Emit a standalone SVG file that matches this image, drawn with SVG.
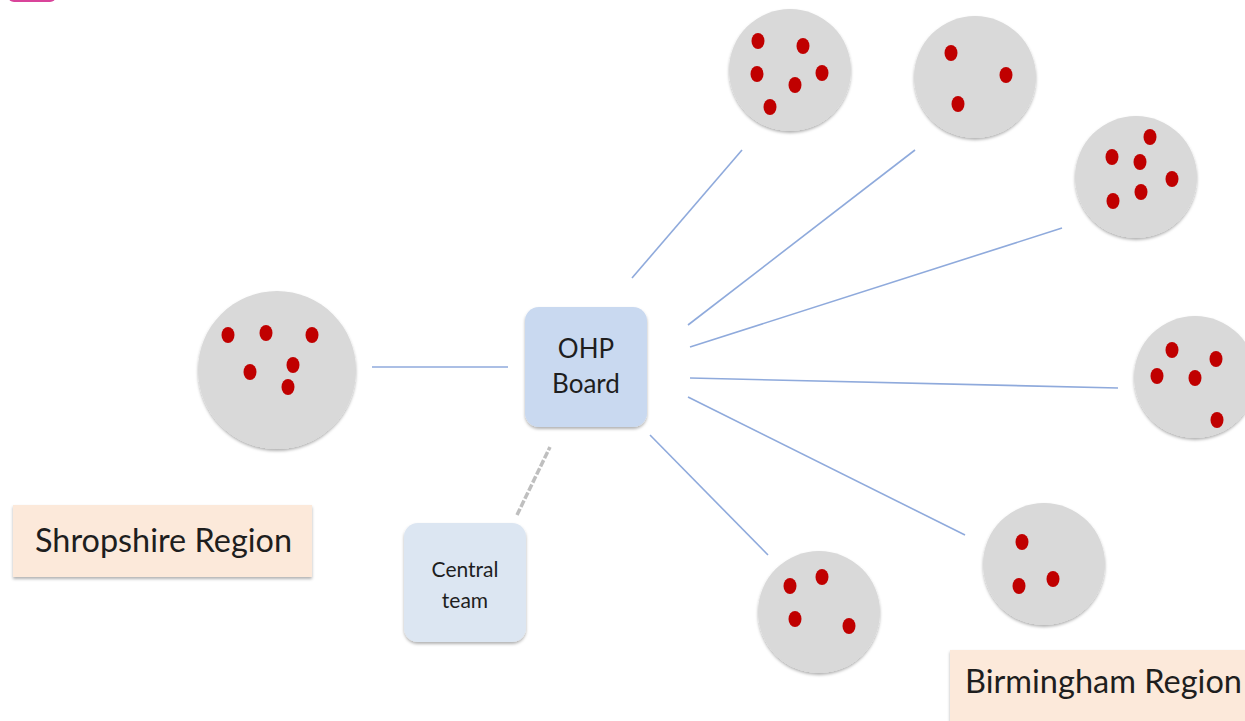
<svg xmlns="http://www.w3.org/2000/svg" width="1245" height="721" viewBox="0 0 1245 721">
<style>
.grp{fill:#D9D9D9;filter:url(#sh)}
.dot{fill:#C00000}
.con{stroke:#8FAADC;stroke-width:1.6;fill:none}
.dash{stroke:#BFBFBF;stroke-width:3.5;stroke-dasharray:7 2;fill:none}
.lbl{font-family:Lato,"Open Sans",sans-serif;fill:#1E1E1E}
</style>
<defs>
<filter id="sh" x="-20%" y="-20%" width="140%" height="140%">
<feDropShadow dx="0" dy="2" stdDeviation="1.5" flood-color="#000" flood-opacity="0.3"/>
</filter>
</defs>
<rect x="8" y="-20" width="48" height="22" rx="6" fill="#D9449A"/>
<g id="connectors">
<line class="con" x1="372" y1="367" x2="508" y2="367"/>
<line class="con" x1="632" y1="278" x2="742" y2="150"/>
<line class="con" x1="688" y1="325" x2="915" y2="150"/>
<line class="con" x1="690" y1="347" x2="1062" y2="228"/>
<line class="con" x1="690" y1="378" x2="1118" y2="388"/>
<line class="con" x1="688" y1="397" x2="965" y2="535"/>
<line class="con" x1="650" y1="435" x2="768" y2="555"/>
<line class="dash" x1="517" y1="515" x2="550" y2="447"/>
</g>
<g id="shropshire-group">
<circle class="grp" cx="277" cy="370" r="79"/>
<ellipse class="dot" cx="228" cy="335" rx="6.5" ry="8"/>
<ellipse class="dot" cx="266" cy="333" rx="6.5" ry="8"/>
<ellipse class="dot" cx="312" cy="335" rx="6.5" ry="8"/>
<ellipse class="dot" cx="250" cy="372" rx="6.5" ry="8"/>
<ellipse class="dot" cx="293" cy="365" rx="6.5" ry="8"/>
<ellipse class="dot" cx="288" cy="387" rx="6.5" ry="8"/>
</g>
<g id="group1">
<circle class="grp" cx="790" cy="70" r="61"/>
<ellipse class="dot" cx="758" cy="41" rx="6.5" ry="8"/>
<ellipse class="dot" cx="803" cy="46" rx="6.5" ry="8"/>
<ellipse class="dot" cx="757" cy="74" rx="6.5" ry="8"/>
<ellipse class="dot" cx="822" cy="73" rx="6.5" ry="8"/>
<ellipse class="dot" cx="795" cy="85" rx="6.5" ry="8"/>
<ellipse class="dot" cx="770" cy="107" rx="6.5" ry="8"/>
</g>
<g id="group2">
<circle class="grp" cx="975" cy="77" r="61"/>
<ellipse class="dot" cx="951" cy="53" rx="6.5" ry="8"/>
<ellipse class="dot" cx="1006" cy="75" rx="6.5" ry="8"/>
<ellipse class="dot" cx="958" cy="104" rx="6.5" ry="8"/>
</g>
<g id="group3">
<circle class="grp" cx="1136" cy="177" r="61"/>
<ellipse class="dot" cx="1150" cy="137" rx="6.5" ry="8"/>
<ellipse class="dot" cx="1112" cy="157" rx="6.5" ry="8"/>
<ellipse class="dot" cx="1140" cy="162" rx="6.5" ry="8"/>
<ellipse class="dot" cx="1172" cy="179" rx="6.5" ry="8"/>
<ellipse class="dot" cx="1141" cy="192" rx="6.5" ry="8"/>
<ellipse class="dot" cx="1113" cy="201" rx="6.5" ry="8"/>
</g>
<g id="group4">
<circle class="grp" cx="1195" cy="377" r="61"/>
<ellipse class="dot" cx="1172" cy="350" rx="6.5" ry="8"/>
<ellipse class="dot" cx="1216" cy="359" rx="6.5" ry="8"/>
<ellipse class="dot" cx="1157" cy="376" rx="6.5" ry="8"/>
<ellipse class="dot" cx="1195" cy="378" rx="6.5" ry="8"/>
<ellipse class="dot" cx="1217" cy="420" rx="6.5" ry="8"/>
</g>
<g id="group5">
<circle class="grp" cx="1044" cy="564" r="61"/>
<ellipse class="dot" cx="1022" cy="542" rx="6.5" ry="8"/>
<ellipse class="dot" cx="1053" cy="579" rx="6.5" ry="8"/>
<ellipse class="dot" cx="1019" cy="586" rx="6.5" ry="8"/>
</g>
<g id="group6">
<circle class="grp" cx="819" cy="612" r="61"/>
<ellipse class="dot" cx="790" cy="586" rx="6.5" ry="8"/>
<ellipse class="dot" cx="822" cy="577" rx="6.5" ry="8"/>
<ellipse class="dot" cx="795" cy="619" rx="6.5" ry="8"/>
<ellipse class="dot" cx="849" cy="626" rx="6.5" ry="8"/>
</g>
<g id="ohp-board">
<rect x="525" y="307" width="122" height="120" rx="14" fill="#C9D9F0" filter="url(#sh)"/>
<text class="lbl" x="586" y="358" font-size="26" text-anchor="middle">OHP</text>
<text class="lbl" x="586" y="393" font-size="26" text-anchor="middle">Board</text>
</g>
<g id="central-team">
<rect x="404" y="523" width="122" height="119" rx="14" fill="#DCE6F2" filter="url(#sh)"/>
<text class="lbl" x="465" y="577" font-size="21" text-anchor="middle">Central</text>
<text class="lbl" x="465" y="608" font-size="21" text-anchor="middle">team</text>
</g>
<g id="shropshire-region">
<rect x="13" y="505" width="299" height="72" fill="#FCE9DA" filter="url(#sh)"/>
<text class="lbl" x="35" y="552" font-size="32" textLength="257" lengthAdjust="spacingAndGlyphs">Shropshire Region</text>
</g>
<g id="birmingham-region">
<rect x="950" y="650" width="300" height="80" fill="#FCE9DA" filter="url(#sh)"/>
<text class="lbl" x="965" y="693" font-size="32" textLength="277" lengthAdjust="spacingAndGlyphs">Birmingham Region</text>
</g>
</svg>
